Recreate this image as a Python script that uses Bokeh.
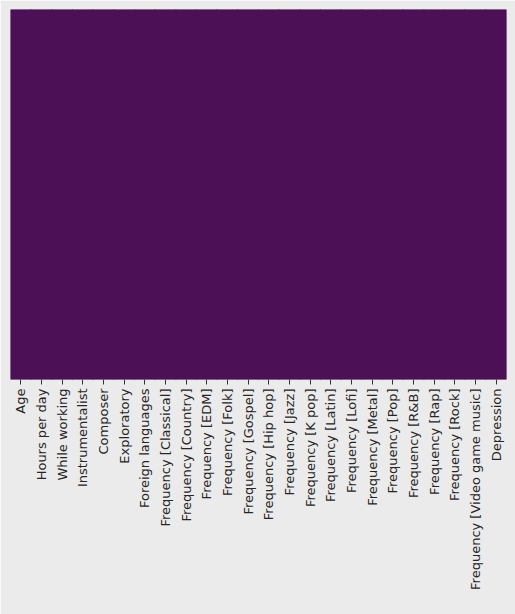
import math
from bokeh.plotting import figure
from bokeh.models import ColumnDataSource, LinearColorMapper, FactorRange
from bokeh.embed import file_html
from bokeh.resources import INLINE

columns = ["Age", "Hours per day", "While working", "Instrumentalist", "Composer",
           "Exploratory", "Foreign languages", "Frequency [Classical]",
           "Frequency [Country]", "Frequency [EDM]", "Frequency [Folk]",
           "Frequency [Gospel]", "Frequency [Hip hop]", "Frequency [Jazz]",
           "Frequency [K pop]", "Frequency [Latin]", "Frequency [Lofi]",
           "Frequency [Metal]", "Frequency [Pop]", "Frequency [R&B]",
           "Frequency [Rap]", "Frequency [Rock]", "Frequency [Video game music]",
           "Depression"]
# missing-value indicator per column (all rows are non-missing -> 0)
missing = [0] * len(columns)

mapper = LinearColorMapper(palette=["#4B1056", "#4B1056"], low=0, high=1)

src = ColumnDataSource(dict(col=columns, val=missing, y=[0.5] * len(columns)))

p = figure(width=515, height=614, x_range=FactorRange(*columns), y_range=(0, 1),
           output_backend="svg", toolbar_location=None,
           min_border_left=10, min_border_top=9, min_border_right=9, min_border_bottom=235)
p.rect(x="col", y="y", width=1, height=1, source=src,
       fill_color={"field": "val", "transform": mapper},
       line_color={"field": "val", "transform": mapper}, line_width=1)

p.background_fill_color = "#EBEBEB"
p.border_fill_color = "#EBEBEB"
p.outline_line_color = None
p.grid.visible = False
p.yaxis.visible = False
p.x_range.range_padding = 0
p.xaxis.axis_line_color = None
p.xaxis.major_tick_line_color = "#333333"
p.xaxis.major_tick_line_width = 1
p.xaxis.major_tick_out = 5
p.xaxis.major_tick_in = 0
p.xaxis.major_label_orientation = math.pi / 2
p.xaxis.major_label_text_font = "DejaVu Sans"
p.xaxis.major_label_text_font_size = "13px"
p.xaxis.major_label_text_color = "#262626"
p.xaxis.major_label_standoff = 4

open("out.html", "w").write(file_html(p, INLINE))
